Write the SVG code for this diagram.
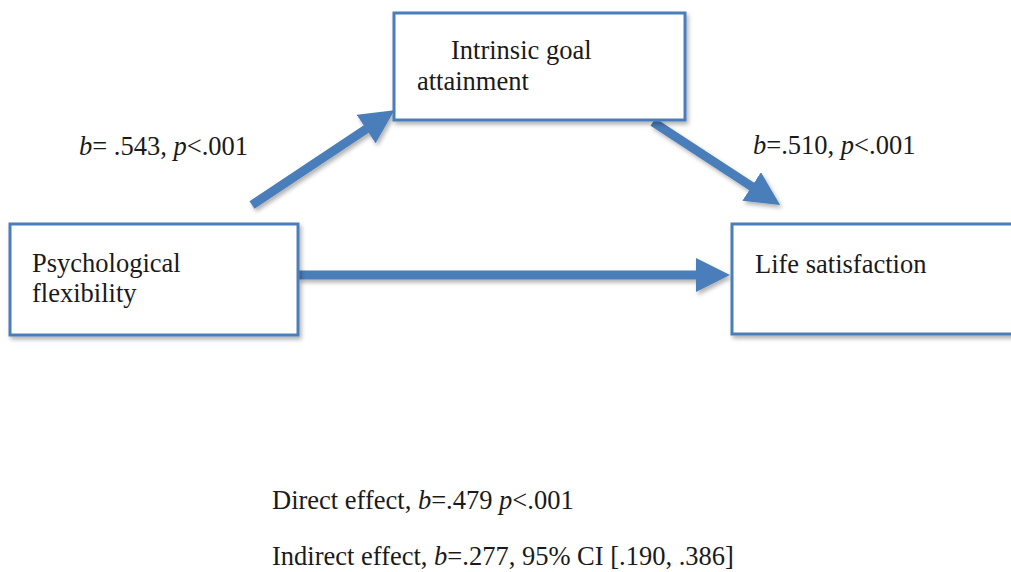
<svg xmlns="http://www.w3.org/2000/svg" width="1011" height="572" viewBox="0 0 1011 572">
<style>
.box{fill:#ffffff;stroke:#4a7ebb;stroke-width:3;filter:url(#sh)}
.t{font-family:"Liberation Serif","Times New Roman",serif;font-size:26.5px;fill:#1a1a1a}
.conn{stroke:#4a7ebb;stroke-width:9;fill:none;marker-end:url(#ah)}
</style>
<defs>
<filter id="sh" x="-10%" y="-10%" width="120%" height="130%">
<feDropShadow dx="2" dy="3" stdDeviation="2" flood-color="#000" flood-opacity="0.3"/>
</filter>
<marker id="ah" markerUnits="userSpaceOnUse" markerWidth="36" markerHeight="36" refX="1" refY="17" orient="auto" viewBox="0 0 36 36">
<path d="M0,0 L34,17 L0,34 z" fill="#4a7ebb"/>
</marker>
</defs>
<rect width="1011" height="572" fill="#ffffff"/>
<g id="connectors" filter="url(#sh)">
<line class="conn" x1="252" y1="205" x2="367" y2="128.5"/>
<line class="conn" x1="653" y1="122" x2="752.5" y2="187"/>
<line class="conn" x1="298" y1="275" x2="697" y2="275"/>
</g>
<g id="node-intrinsic">
<rect class="box" x="394" y="13" width="291" height="107"/>
<text class="t" x="451" y="59">Intrinsic goal</text>
<text class="t" x="417" y="90">attainment</text>
</g>
<g id="node-psych">
<rect class="box" x="10" y="224" width="288" height="111"/>
<text class="t" x="32" y="272">Psychological</text>
<text class="t" x="32" y="302">flexibility</text>
</g>
<g id="node-life">
<rect class="box" x="732" y="224" width="290" height="110"/>
<text class="t" x="755" y="273">Life satisfaction</text>
</g>
<g id="labels">
<text class="t" x="79" y="155"><tspan font-style="italic">b</tspan>= .543, <tspan font-style="italic">p</tspan>&lt;.001</text>
<text class="t" x="753" y="154"><tspan font-style="italic">b</tspan>=.510, <tspan font-style="italic">p</tspan>&lt;.001</text>
<text class="t" x="272" y="509">Direct effect, <tspan font-style="italic">b</tspan>=.479 <tspan font-style="italic">p</tspan>&lt;.001</text>
<text class="t" x="272" y="565">Indirect effect, <tspan font-style="italic">b</tspan>=.277, 95% CI [.190, .386]</text>
</g>
</svg>
